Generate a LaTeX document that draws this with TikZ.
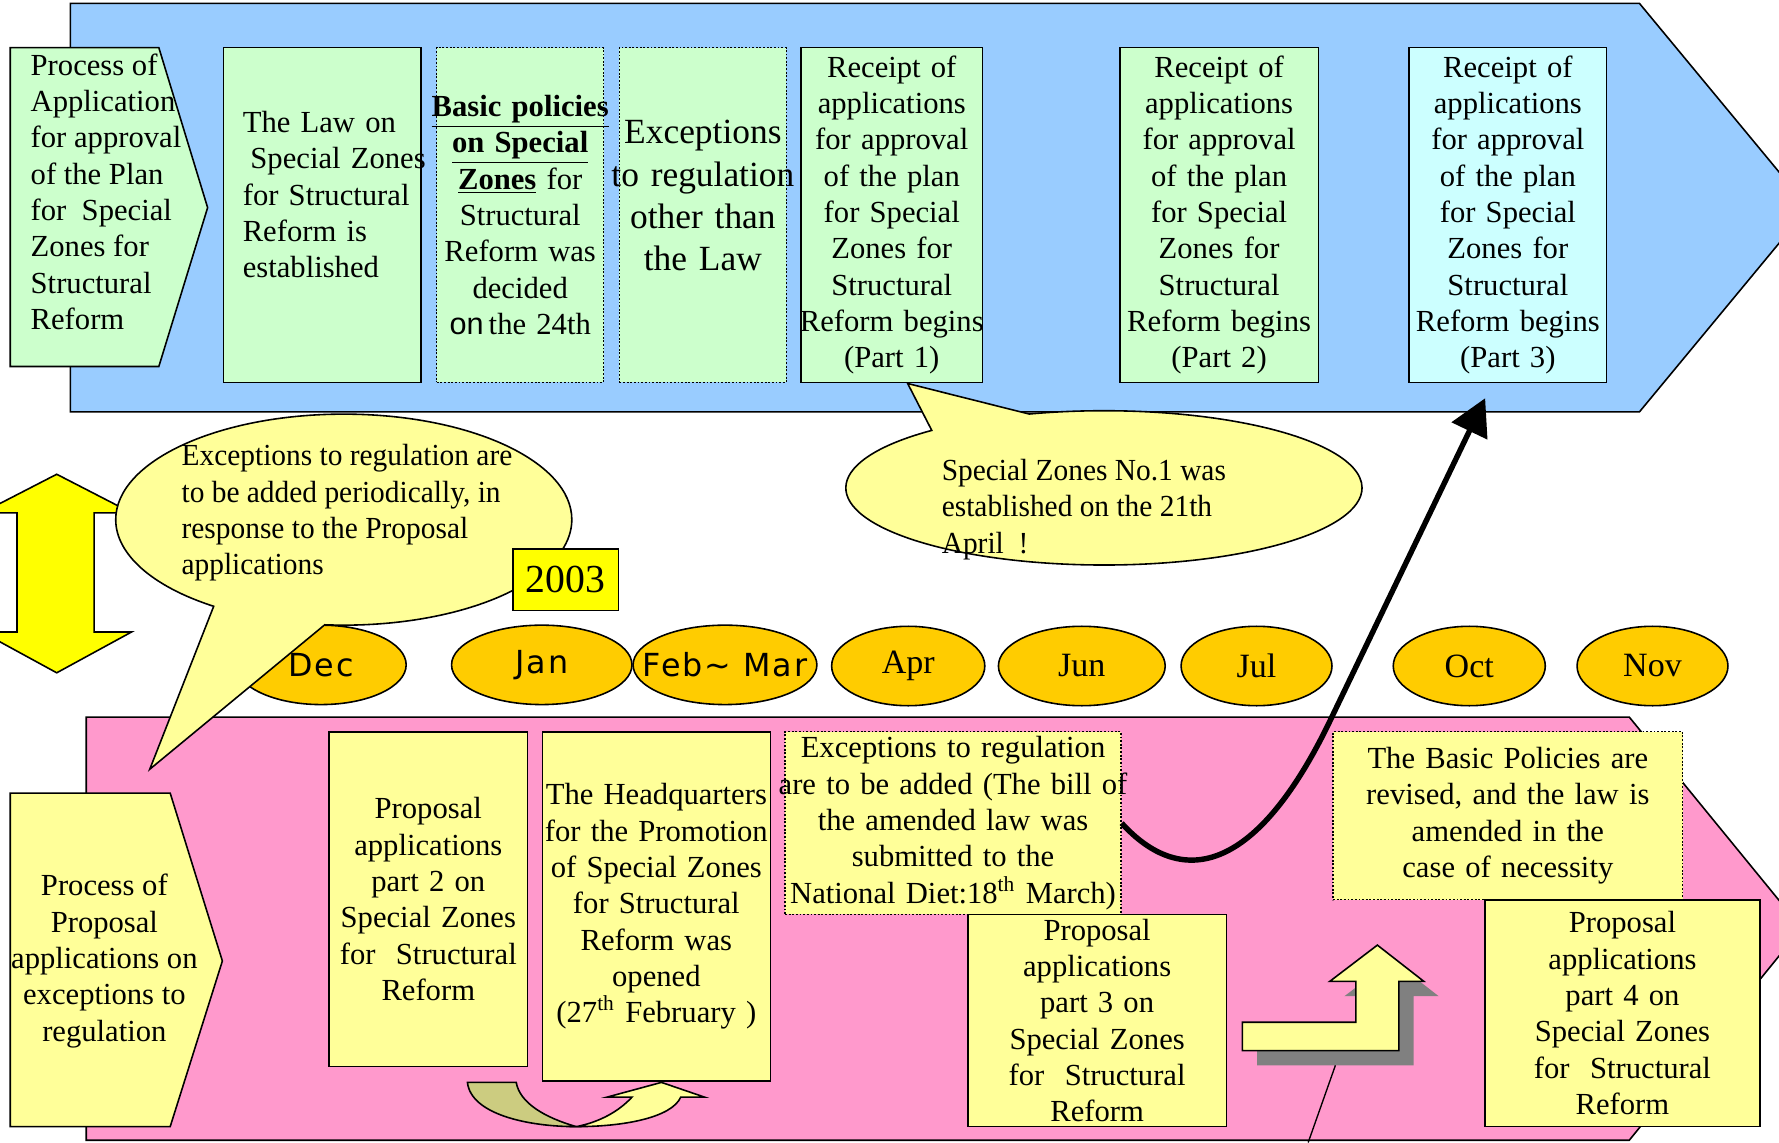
\documentclass[tikz,border=0pt]{standalone}
\usepackage{fontspec}
\setmainfont{Liberation Serif}
\newfontfamily\monthsans[LetterSpace=6]{DejaVu Sans}
\newfontfamily\arialalt{Liberation Sans}
\newfontfamily\narrowserif[FakeStretch=0.96]{Liberation Serif}
\usetikzlibrary{positioning,arrows.meta,shapes.geometric,shapes.callouts}
\definecolor{planblue}{HTML}{99CCFF}
\definecolor{plangreen}{HTML}{CCFFCC}
\definecolor{plancyan}{HTML}{CCFFFF}
\definecolor{proppink}{HTML}{FF99CC}
\definecolor{propyellow}{HTML}{FFFF99}
\definecolor{brightyellow}{HTML}{FFFF00}
\definecolor{monthgold}{HTML}{FFCC00}
\definecolor{olivebend}{HTML}{CCCC80}
\definecolor{shadowgray}{HTML}{808080}

\begin{document}
\begin{tikzpicture}[x=0.5pt,y=-0.5pt,
  outline/.style={draw,line width=0.7pt,line join=miter},
  txt/.style={font=\fontsize{13.5}{16}\selectfont},
  box/.style={outline,txt,inner sep=0pt,align=center},
  planbox/.style={box,fill=plangreen,minimum height=147.5pt},
  propbox/.style={box,fill=propyellow},
  dotbox/.style={line width=0.6pt,dash pattern=on 0.8pt off 0.8pt},
  month/.style={ellipse,outline,fill=monthgold,inner sep=0pt,minimum height=35pt,font=\fontsize{15}{18}\selectfont},
  sansmonth/.style={month,font=\monthsans\fontsize{14}{17}\selectfont},
  bubble/.style={ellipse callout,outline,fill=propyellow,inner sep=0pt},
  bubbletext/.style={font=\narrowserif\fontsize{13.5}{16}\selectfont,align=left,anchor=west},
  jump/.style={line width=2.4pt,-{Triangle[length=16pt,width=17pt]}}]
\useasboundingbox (0,0) rectangle (1568,1007);
\clip (0,0) rectangle (1568,1007);

% plan side (upper arrow)
\draw[outline,fill=planblue] (62,3) -- (1445,3) -- (1594,183) -- (1445,363) -- (62,363) -- cycle;
\draw[outline,fill=plangreen] (9,42) -- (140,42) -- (183,183) -- (140,323) -- (9,323) -- cycle;
\node[txt,align=left,anchor=west] (plan) at (20,169) {Process of\\Application\\for approval\\of the Plan\\for\ \ Special\\Zones for\\Structural\\Reform};
\node[planbox,minimum width=87pt,text width=70pt,inner xsep=8.5pt,align=left,text depth=82pt] (law) at (284,189.5) {The Law on\\\mbox{\hspace*{0.25em}Special Zones}\\\mbox{for Structural}\\Reform is\\established};
\node[planbox,dotbox,minimum width=73.5pt,text width=73.5pt] (basic) at (458.5,189.5) {\makebox[0pt]{\textbf{\underline{Basic policies}}}\\\textbf{\underline{on Special}}\\\textbf{\underline{Zones}} for\\Structural\\Reform was\\decided\\{\arialalt on}\,the 24th};
\node[planbox,dotbox,minimum width=73.5pt,text width=73.5pt,font=\fontsize{15.6}{18.6}\selectfont,text depth=73pt] (except) at (619.5,189.5) {Exceptions\\\makebox[0pt]{to regulation}\\other than\\the Law};
\node[planbox,minimum width=80pt,text width=80pt] (part1) at (786,189.5) {Receipt of\\applications\\for approval\\of the plan\\for Special\\Zones for\\Structural\\\makebox[0pt]{Reform begins}\\(Part 1)};
\node[planbox,minimum width=87.5pt,text width=87.5pt] (part2) at (1074.5,189.5) {Receipt of\\applications\\for approval\\of the plan\\for Special\\Zones for\\Structural\\Reform begins\\(Part 2)};
\node[planbox,fill=plancyan,minimum width=87pt,text width=87pt] (part3) at (1329,189.5) {Receipt of\\applications\\for approval\\of the plan\\for Special\\Zones for\\Structural\\Reform begins\\(Part 3)};

% proposal side (lower arrow)
\draw[outline,fill=proppink] (76,632) -- (1436,632) -- (1588,818) -- (1436,1005) -- (76,1005) -- cycle;
\draw[outline,fill=propyellow] (9,699) -- (150,699) -- (196,847) -- (150,993) -- (9,993) -- cycle;
\node[txt,align=center] (prop) at (92,847) {Process of\\Proposal\\applications on\\exceptions to\\regulation};
\node[propbox,minimum width=87.5pt,minimum height=147.5pt,text width=87.5pt] (prop2) at (377.5,792.5) {Proposal\\applications\\part 2 on\\Special Zones\\for\ \ Structural\\Reform};
\node[propbox,minimum width=100.5pt,minimum height=154pt,text width=100.5pt] (hq) at (578.5,799) {The Headquarters\\for the Promotion\\of Special Zones\\for Structural\\Reform was\\opened\\(27\textsuperscript{th} February )};
\node[propbox,dotbox,minimum width=148pt,minimum height=80.5pt,text width=148pt] (amend) at (840,725.5) {Exceptions to regulation\\\makebox[0pt]{are to be added (The bill of}\\the amended law was\\submitted to the\\National Diet:18\textsuperscript{th} March)};
\node[propbox,minimum width=114pt,minimum height=93.5pt,text width=114pt] (prop3) at (967,899.5) {Proposal\\applications\\part 3 on\\Special Zones\\for\ \ Structural\\Reform};
\node[propbox,dotbox,minimum width=154pt,minimum height=74pt,text width=154pt] (revise) at (1329,719) {The Basic Policies are\\revised, and the law is\\amended in the\\case of necessity};
\node[propbox,minimum width=121pt,minimum height=100pt,text width=121pt] (prop4) at (1430,893) {Proposal\\applications\\part 4 on\\Special Zones\\for\ \ Structural\\Reform};

% months
\node[sansmonth,minimum width=75pt] (dec) at (283,586) {Dec};
\node[sansmonth,minimum width=79.5pt] (jan) at (477.5,586) {Jan};
\node[sansmonth,minimum width=81pt] (febmar) at (639,586) {\makebox[0pt]{Feb\textasciitilde{} Mar}};
\foreach \m/\x/\w in {Apr/800.5/67.5,Jun/953.5/73.5,Jul/1107.5/66.5,Oct/1295/67,Nov/1456.5/66.5}
  \node[month,minimum width=\w pt] (\m) at (\x,587) {\m};

\draw[outline,fill=brightyellow] (50,418) -- (116,452) -- (83,452) -- (83,557) -- (116,557) -- (50,593) -- (-16,557) -- (15,557) -- (15,452) -- (-16,452) -- cycle;

% callouts
\node[bubble,minimum width=201pt,minimum height=93pt,callout absolute pointer={(132,678)},callout pointer arc=30] (note1) at (303,458) {};
\node[bubbletext] (note1text) at (153,452) {Exceptions to regulation are\\to be added periodically, in\\response to the Proposal\\applications};
\node[outline,fill=brightyellow,minimum width=46.5pt,minimum height=27pt,inner sep=0pt,font=\fontsize{17.5}{20}\selectfont] (year) at (498.5,511) {2003};
\node[bubble,minimum width=227.5pt,minimum height=68pt,callout absolute pointer={(800,338)},callout pointer arc=25] (note2) at (973,430) {};
\node[bubbletext] (note2text) at (823,449) {Special Zones No.1 was\\established on the 21th\\April\ \ !};

\coordinate (part3foot) at (1309,351);
\draw[jump] (amend.east) .. controls (1040,782) and (1105,772) .. (1170,640) -- (part3foot);

% bent arrow with shadow
\fill[shadowgray,shift={(13,13)}] (1095,901) -- (1195,901) -- (1195,865) -- (1172,865) -- (1214,833) -- (1255,865) -- (1233,865) -- (1233,926) -- (1095,926) -- cycle;
\draw[outline,fill=propyellow] (1095,901) -- (1195,901) -- (1195,865) -- (1172,865) -- (1214,833) -- (1255,865) -- (1233,865) -- (1233,926) -- (1095,926) -- cycle;
\draw[line width=0.6pt] (1153,1007) -- (1177,939);

% curved arrow under the boxes
\draw[outline,fill=olivebend] (412,954) .. controls (415,982) and (465,993) .. (508,993) .. controls (480,985) and (458,972) .. (455,954) -- cycle;
\draw[outline,fill=propyellow] (508,993) .. controls (550,993) and (592,985) .. (600,967) -- (621,967) -- (583,954) -- (535,967) -- (557,967) .. controls (545,980) and (528,989) .. (508,993) -- cycle;
\end{tikzpicture}
\end{document}
